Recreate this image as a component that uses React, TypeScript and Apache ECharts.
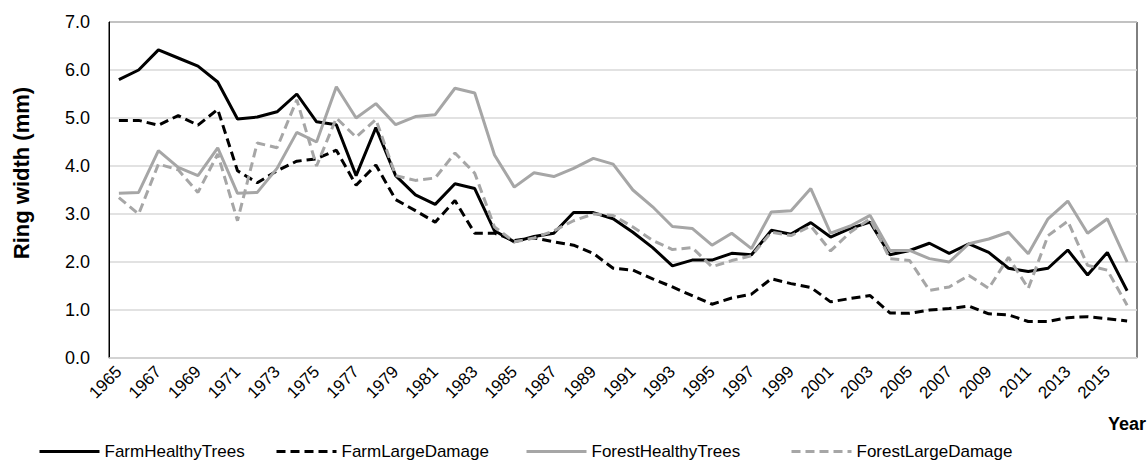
import React, { useEffect, useRef } from "react";
import * as echarts from "echarts";

const years: string[] = [];
for (let y = 1965; y <= 2016; y++) years.push(String(y));

const farmHealthy = [
  5.8, 6.0, 6.42, 6.25, 6.08, 5.75, 4.98, 5.02, 5.13, 5.5,
  4.92, 4.86, 3.8, 4.8, 3.8, 3.4, 3.2, 3.63, 3.53, 2.65,
  2.42, 2.53, 2.6, 3.03, 3.03, 2.9, 2.62, 2.3, 1.92, 2.04,
  2.04, 2.18, 2.15, 2.66, 2.58, 2.82, 2.52, 2.7, 2.83, 2.15,
  2.24, 2.39, 2.18, 2.38, 2.2, 1.87, 1.8, 1.87, 2.25, 1.73,
  2.2, 1.4,
];
const farmLarge = [
  4.95, 4.95, 4.85, 5.05, 4.85, 5.18, 3.9, 3.65, 3.9, 4.1,
  4.15, 4.33, 3.6, 4.02, 3.3, 3.07, 2.83, 3.28, 2.6, 2.6,
  2.45, 2.5, 2.42, 2.35, 2.18, 1.87, 1.83, 1.65, 1.48, 1.3,
  1.12, 1.25, 1.33, 1.65, 1.55, 1.47, 1.17, 1.24, 1.3, 0.94,
  0.93, 1.0, 1.03, 1.08, 0.92, 0.9, 0.76, 0.76, 0.84, 0.86,
  0.82, 0.77,
];
const forestHealthy = [
  3.43, 3.45, 4.32, 3.97, 3.8, 4.38, 3.43, 3.45, 3.95, 4.7,
  4.5, 5.65, 5.0, 5.3, 4.86, 5.03, 5.07, 5.62, 5.52, 4.23,
  3.56, 3.86, 3.78, 3.95, 4.16, 4.04, 3.5, 3.15, 2.74, 2.7,
  2.35, 2.6, 2.28, 3.04, 3.07, 3.53, 2.6, 2.75, 2.97, 2.24,
  2.24, 2.07, 2.0, 2.38, 2.48, 2.62, 2.17, 2.9, 3.27, 2.6,
  2.9, 2.0,
];
const forestLarge = [
  3.34, 3.0, 4.04, 3.92, 3.45, 4.25, 2.86, 4.48, 4.38, 5.38,
  4.0, 5.0, 4.6, 4.97, 3.8, 3.7, 3.75, 4.27, 3.85, 2.73,
  2.42, 2.5, 2.65, 2.86, 3.0, 2.97, 2.73, 2.45, 2.26, 2.3,
  1.9, 2.03, 2.13, 2.62, 2.55, 2.75, 2.23, 2.62, 2.9, 2.07,
  2.03, 1.41, 1.48, 1.72, 1.45, 2.1, 1.45, 2.55, 2.85, 1.93,
  1.83, 1.1,
];

const seriesNames = ["FarmHealthyTrees", "FarmLargeDamage", "ForestHealthyTrees", "ForestLargeDamage"];
const legendLefts = [38, 275, 525, 790];

const FONT = "'Liberation Sans', Arial, sans-serif";
const BLACK = "#000000";
const GRAY = "#a6a6a6";

export default function App() {
  const ref = useRef<HTMLDivElement>(null);
  useEffect(() => {
    if (!ref.current) return;
    const chart = echarts.init(ref.current, undefined, { renderer: "svg" });
    const mk = (name: string, data: number[], color: string, dashed: boolean) => ({
      name,
      type: "line",
      data,
      symbol: "none",
      lineStyle: { color, width: 3, type: dashed ? [9, 5] : "solid", cap: "butt" },
      itemStyle: { color },
    });
    chart.setOption({
      animation: false,
      backgroundColor: "#ffffff",
      grid: {
        left: 109,
        right: 10,
        top: 22,
        bottom: 108,
        show: true,
        borderColor: "#000000",
        borderWidth: 1,
      },
      legend: seriesNames.map((n, i) => ({
        bottom: 6,
        left: legendLefts[i],
        padding: 0,
        itemWidth: 60,
        itemHeight: 14,
        itemStyle: { opacity: 0 },
        lineStyle: { width: 3 },
        textStyle: { fontFamily: FONT, fontSize: 17, color: "#000" },
        data: [n],
      })),
      xAxis: {
        type: "category",
        data: years,
        boundaryGap: true,
        axisLine: { show: true, lineStyle: { color: "#d9d9d9", width: 1.5 } },
        axisTick: { show: false },
        axisLabel: {
          interval: 1,
          rotate: 45,
          margin: 11,
          fontFamily: FONT,
          fontSize: 17,
          color: "#000",
        },
      },
      yAxis: {
        type: "value",
        min: 0,
        max: 7,
        interval: 1,
        axisLine: { show: true, lineStyle: { color: "#000", width: 1 } },
        axisTick: { show: false },
        axisLabel: {
          fontFamily: FONT,
          fontSize: 18,
          color: "#000",
          margin: 19,
          formatter: (v: number) => v.toFixed(1),
        },
        splitLine: { show: true, lineStyle: { color: "#d9d9d9", width: 1.5 } },
      },
      graphic: [
        {
          type: "text",
          x: 21,
          y: 173,
          rotation: Math.PI / 2,
          style: {
            text: "Ring width (mm)",
            fontFamily: FONT,
            fontSize: 22,
            fontWeight: "bold",
            fill: "#000",
            align: "center",
            verticalAlign: "middle",
          },
        },
        {
          type: "text",
          right: 1,
          top: 415,
          style: { text: "Year", fontFamily: FONT, fontSize: 18, fontWeight: "bold", fill: "#000" },
        },
      ],
      series: [
        mk(seriesNames[0], farmHealthy, BLACK, false),
        mk(seriesNames[1], farmLarge, BLACK, true),
        mk(seriesNames[2], forestHealthy, GRAY, false),
        mk(seriesNames[3], forestLarge, GRAY, true),
      ],
    });
    return () => chart.dispose();
  }, []);
  return (
    <div
      ref={ref}
      style={{ position: "absolute", left: 0, top: 0, width: 1147, height: 466 }}
    />
  );
}
